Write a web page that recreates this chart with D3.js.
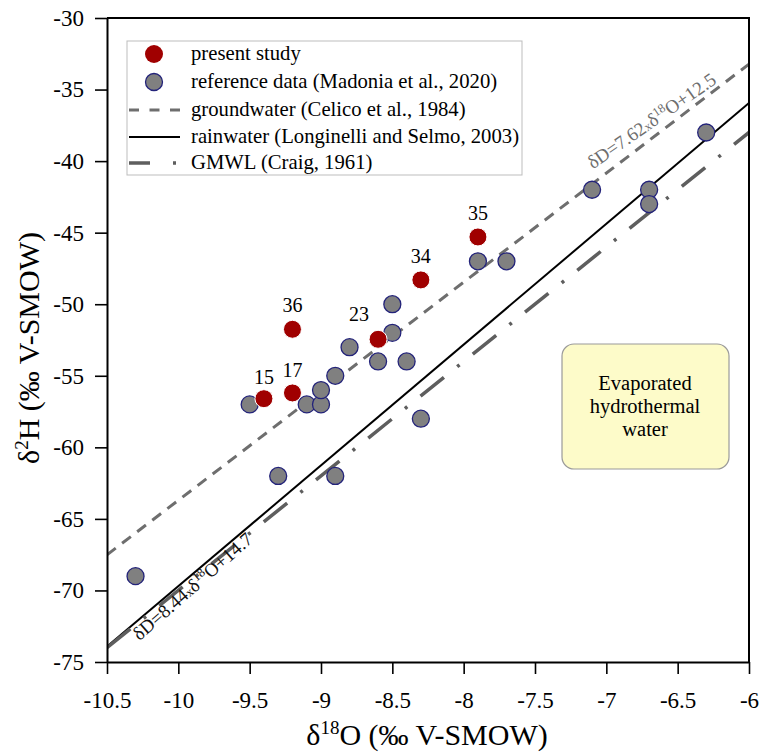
<!DOCTYPE html>
<html>
<head>
<meta charset="utf-8">
<script src="https://cdn.jsdelivr.net/npm/d3@7"></script>
<style>
  body { margin: 0; background: #fff; }
  svg { font-family: "Liberation Serif", "Times New Roman", serif; }
</style>
</head>
<body>
<div id="chart"></div>
<script>
// present study samples
var presentX = [-9.4, -9.2, -9.2, -8.6, -8.3, -7.9];
var presentY = [-56.6, -56.2, -51.75, -52.45, -48.3, -45.3];
var presentLabels = ['15', '17', '36', '23', '34', '35'];

// reference data (Madonia et al., 2020)
var refX = [-10.3, -9.5, -9.3, -9.1, -9.0, -9.0, -8.9, -8.9, -8.8, -8.6, -8.5, -8.5, -8.4, -8.3, -7.9, -7.7, -7.1, -6.7, -6.7, -6.3];
var refY = [-69, -57, -62, -57, -57, -56, -55, -62, -53, -54, -52, -50, -54, -58, -47, -47, -42, -42, -43, -38];

// lines: slope, intercept
var lineNames = ['groundwater', 'rainwater', 'GMWL'];
var lineSlopes = [7.62, 8.44, 8];
var lineIntercepts = [12.5, 14.7, 10];

var xTicks = [-10.5, -10, -9.5, -9, -8.5, -8, -7.5, -7, -6.5, -6];
var yTicks = [-75, -70, -65, -60, -55, -50, -45, -40, -35, -30];

var legendLabels = [
  'present study',
  'reference data (Madonia et al., 2020)',
  'groundwater (Celico et al., 1984)',
  'rainwater (Longinelli and Selmo, 2003)',
  'GMWL (Craig, 1961)'
];

var W = 763, H = 754;
var plotL = 107, plotR = 749, plotT = 18, plotB = 662;

var x = d3.scaleLinear().domain([-10.5, -6]).range([plotL, plotR]);
var y = d3.scaleLinear().domain([-75, -30]).range([plotB, plotT]);

var svg = d3.select('#chart').append('svg')
  .attr('width', W)
  .attr('height', H);

svg.append('defs').append('clipPath')
  .attr('id', 'plotclip')
  .append('rect')
  .attr('x', plotL).attr('y', plotT)
  .attr('width', plotR - plotL).attr('height', plotB - plotT);

var lineStyles = {
  groundwater: { stroke: '#6e6e6e', width: 3, dash: '11,8' },
  rainwater: { stroke: '#000', width: 2, dash: null },
  GMWL: { stroke: '#5e5e5e', width: 3.5, dash: '30,17,3,17' }
};

//draw the lines
var plot = svg.append('g').attr('clip-path', 'url(#plotclip)');
lineNames.forEach(function(name, i) {
  var st = lineStyles[name];
  var x0 = -10.5, x1 = -6;
  var ln = plot.append('line')
    .attr('x1', x(x0)).attr('y1', y(lineSlopes[i] * x0 + lineIntercepts[i]))
    .attr('x2', x(x1)).attr('y2', y(lineSlopes[i] * x1 + lineIntercepts[i]))
    .attr('stroke', st.stroke)
    .attr('stroke-width', st.width);
  if (st.dash) ln.attr('stroke-dasharray', st.dash);
});

//line equation labels
function eqLabel(idx, xStart, dy, color, txt, angAdj) {
  var s = lineSlopes[idx], b = lineIntercepts[idx];
  var ang = Math.atan2(y(s * xStart + b) - y(s * (xStart + 1) + b), x(xStart + 1) - x(xStart)) * 180 / Math.PI;
  var t = svg.append('text')
    .attr('transform', 'translate(' + x(xStart) + ',' + y(s * xStart + b) + ') rotate(' + (-ang + angAdj) + ')')
    .attr('fill', color)
    .attr('font-size', 19);
  t.append('tspan').attr('dy', dy).text('δD=' + txt[0]);
  t.append('tspan').attr('font-size', 12.5).text('x');
  t.append('tspan').text('δ');
  t.append('tspan').attr('font-size', 12.5).attr('dy', -7).text('18');
  t.append('tspan').attr('dy', 7).text('O+' + txt[1]);
}
eqLabel(0, -7.05, -11, '#6e6e6e', ['7.62', '12.5'], 2.5);
eqLabel(1, -10.35, 17, '#111', ['8.44', '14.7'], -1);

//evaporated box
var bx = svg.append('g');
bx.append('rect')
  .attr('x', 562).attr('y', 344)
  .attr('width', 167).attr('height', 125)
  .attr('rx', 12).attr('ry', 12)
  .attr('fill', '#fdfbc9')
  .attr('stroke', '#9a9a9a')
  .attr('stroke-width', 1.2);
['Evaporated', 'hydrothermal', 'water'].forEach(function(s, i) {
  bx.append('text')
    .attr('x', 645).attr('y', 390 + i * 23)
    .attr('text-anchor', 'middle')
    .attr('font-size', 20.5)
    .text(s);
});

//reference points
svg.append('g').selectAll('circle')
  .data(refX)
  .enter().append('circle')
    .attr('cx', function(d) { return x(d); })
    .attr('cy', function(d, i) { return y(refY[i]); })
    .attr('r', 8.5)
    .attr('fill', '#808080')
    .attr('stroke', '#23237a')
    .attr('stroke-width', 1.3);

//present study points
svg.append('g').selectAll('circle')
  .data(presentX)
  .enter().append('circle')
    .attr('cx', function(d) { return x(d); })
    .attr('cy', function(d, i) { return y(presentY[i]); })
    .attr('r', 9)
    .attr('fill', '#a00000')
    .attr('stroke', '#fff')
    .attr('stroke-width', 1);

var labelOffsets = [[0, -15], [0, -16], [0, -17], [-19, -18], [0, -17], [0, -17]];
svg.append('g').selectAll('text')
  .data(presentLabels)
  .enter().append('text')
    .attr('x', function(d, i) { return x(presentX[i]) + labelOffsets[i][0]; })
    .attr('y', function(d, i) { return y(presentY[i]) + labelOffsets[i][1]; })
    .attr('text-anchor', 'middle')
    .attr('font-size', 20)
    .text(function(d) { return d; });

//axes
var xAxis = svg.append('g')
  .attr('transform', 'translate(0,' + plotB + ')')
  .call(d3.axisBottom(x).tickValues(xTicks).tickSize(12).tickSizeOuter(0).tickFormat(function(d) { return String(d); }));
var yAxis = svg.append('g')
  .attr('transform', 'translate(' + plotL + ',0)')
  .call(d3.axisLeft(y).tickValues(yTicks).tickSize(12).tickSizeOuter(0).tickFormat(function(d) { return String(d); }));

[xAxis, yAxis].forEach(function(a) {
  a.select('.domain').attr('stroke', '#000').attr('stroke-width', 2);
  a.selectAll('.tick line').attr('stroke', '#000').attr('stroke-width', 1.6);
  a.selectAll('.tick text')
    .attr('font-family', '"Liberation Serif", serif')
    .attr('font-size', 23)
    .attr('fill', '#000');
});
xAxis.selectAll('.tick text').attr('dy', '1.33em');
yAxis.selectAll('.tick text').attr('dx', '-0.35em');

//frame top and right
svg.append('path')
  .attr('d', 'M' + plotL + ',' + plotT + 'H' + plotR + 'V' + plotB)
  .attr('fill', 'none')
  .attr('stroke', '#000')
  .attr('stroke-width', 2);

//axis titles
var xt = svg.append('text')
  .attr('x', 427)
  .attr('y', 745)
  .attr('text-anchor', 'middle')
  .attr('font-size', 30);
xt.append('tspan').text('δ');
xt.append('tspan').attr('font-size', 19).attr('dy', -11).text('18');
xt.append('tspan').attr('dy', 11).text('O (‰ V-SMOW)');

var yt = svg.append('text')
  .attr('transform', 'translate(39,348) rotate(-90)')
  .attr('text-anchor', 'middle')
  .attr('font-size', 30);
yt.append('tspan').text('δ');
yt.append('tspan').attr('font-size', 19).attr('dy', -11).text('2');
yt.append('tspan').attr('dy', 11).text('H (‰ V-SMOW)');

//legend
var lg = svg.append('g');
lg.append('rect')
  .attr('x', 127).attr('y', 41)
  .attr('width', 395).attr('height', 134)
  .attr('fill', '#fff')
  .attr('stroke', '#bdbdbd')
  .attr('stroke-width', 1);

var rowY = [54, 82, 110, 137, 163];
legendLabels.forEach(function(s, i) {
  var yy = rowY[i];
  if (i == 0) {
    lg.append('circle').attr('cx', 154).attr('cy', yy).attr('r', 9).attr('fill', '#a00000');
  } else if (i == 1) {
    lg.append('circle').attr('cx', 154).attr('cy', yy).attr('r', 8.5)
      .attr('fill', '#808080').attr('stroke', '#23237a').attr('stroke-width', 1.3);
  } else {
    var st = lineStyles[lineNames[i - 2]];
    var l = lg.append('line')
      .attr('x1', 129).attr('x2', 180)
      .attr('y1', yy).attr('y2', yy)
      .attr('stroke', st.stroke)
      .attr('stroke-width', st.width);
    if (i == 2) l.attr('stroke-dasharray', '10,10.5');
    if (i == 4) l.attr('stroke-dasharray', '21,23,3,10');
  }
  lg.append('text')
    .attr('x', 191).attr('y', yy + 6)
    .attr('font-size', 20.7)
    .text(s);
});
</script>
</body>
</html>
